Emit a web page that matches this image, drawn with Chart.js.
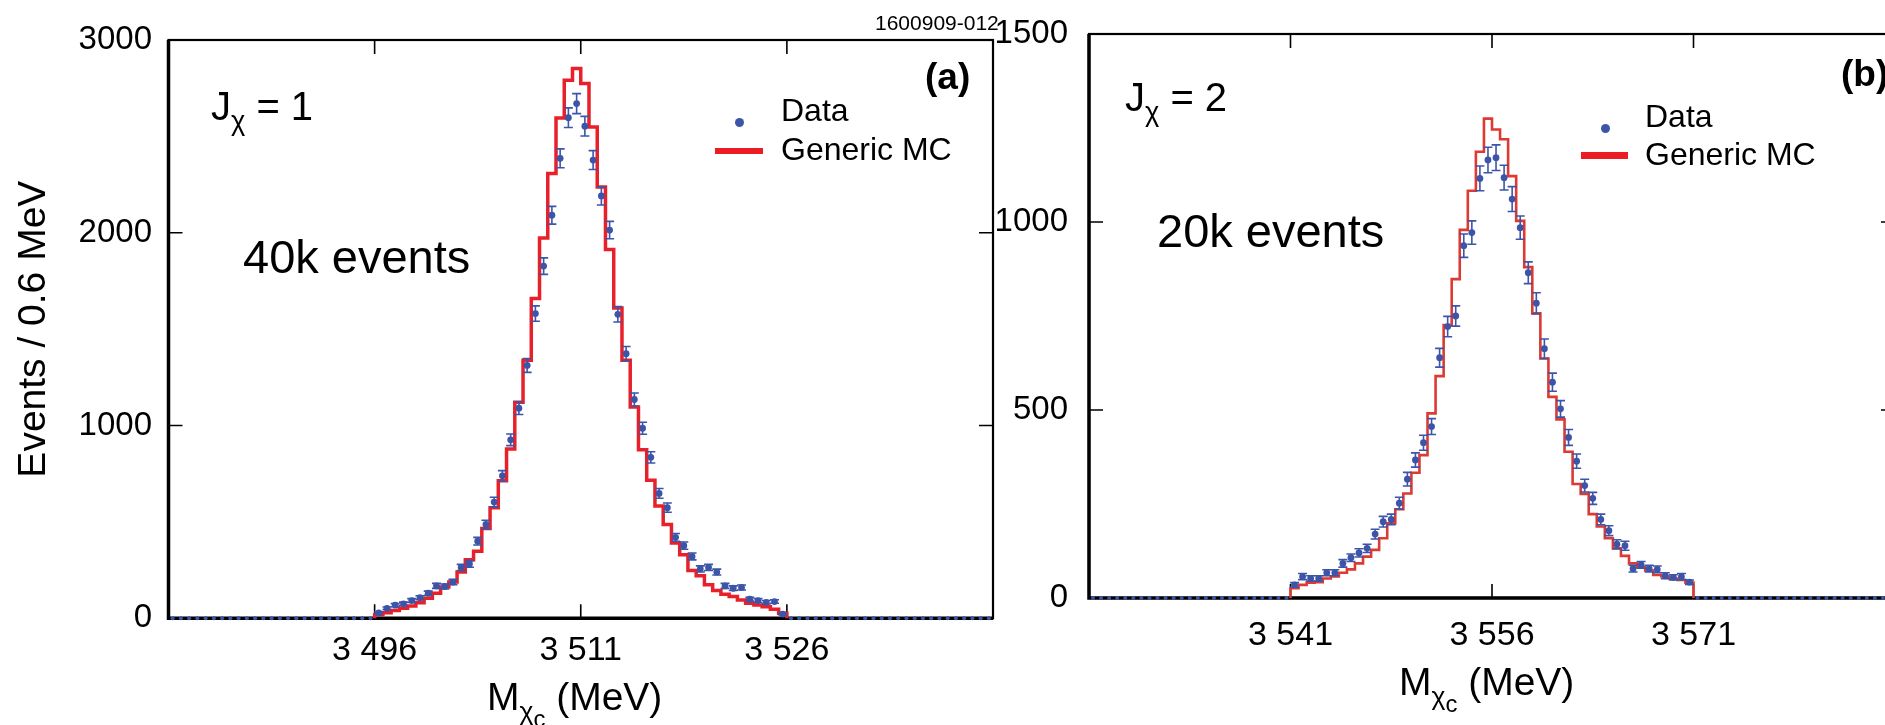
<!DOCTYPE html>
<html>
<head>
<meta charset="utf-8">
<script src="https://cdn.jsdelivr.net/npm/chart.js@4.4.1/dist/chart.umd.min.js"></script>
<style>
  html, body { margin: 0; padding: 0; width: 1885px; height: 725px; overflow: hidden; background: #fff; }
  body { position: relative; font-family: 'Liberation Sans', Arial, Helvetica, sans-serif; color: #000; }
  .panel { position: absolute; top: 0; }
  #panelA { left: 0; width: 1000px; height: 725px; }
  #panelB { left: 985px; width: 915px; height: 725px; }
  .txt { position: absolute; white-space: nowrap; line-height: 1; }
  .sub { font-size: 0.68em; position: relative; top: 0.38em; }
  .subsub { font-size: 0.9em; position: relative; top: 0.3em; }
  .dot { position: absolute; width: 9px; height: 9px; border-radius: 50%; background: #3d55a8; }
  .bar { position: absolute; background: #ec1c24; }
</style>
</head>
<body>
<div id="panelA" class="panel"><canvas id="chartA" width="1000" height="725"></canvas></div>
<div id="panelB" class="panel"><canvas id="chartB" width="915" height="725"></canvas></div>

<!-- panel (a) annotations -->
<div class="txt" style="left:875px;top:12px;font-size:21px;">1600909-012</div>
<div class="txt" style="left:925px;top:58px;font-size:37px;font-weight:bold;">(a)</div>
<div class="txt" style="left:211px;top:86px;font-size:40px;">J<span class="sub">χ</span> = 1</div>
<div class="txt" style="left:243px;top:233px;font-size:47px;">40k events</div>
<div class="dot" style="left:735px;top:118px;"></div>
<div class="txt" style="left:781px;top:94px;font-size:32px;">Data</div>
<div class="bar" style="left:715px;top:148px;width:48px;height:6px;"></div>
<div class="txt" style="left:781px;top:133px;font-size:32px;">Generic MC</div>
<div class="txt" style="left:487px;top:677px;font-size:39px;">M<span class="sub">χ<span class="subsub">c</span></span> (MeV)</div>

<!-- panel (b) annotations -->
<div class="txt" style="left:1841px;top:55px;font-size:37px;font-weight:bold;">(b)</div>
<div class="txt" style="left:1125px;top:77px;font-size:40px;">J<span class="sub">χ</span> = 2</div>
<div class="txt" style="left:1157px;top:207px;font-size:47px;">20k events</div>
<div class="dot" style="left:1601px;top:124px;"></div>
<div class="txt" style="left:1645px;top:100px;font-size:32px;">Data</div>
<div class="bar" style="left:1581px;top:152px;width:47px;height:7px;"></div>
<div class="txt" style="left:1645px;top:138px;font-size:32px;">Generic MC</div>
<div class="txt" style="left:1399px;top:662px;font-size:39px;">M<span class="sub">χ<span class="subsub">c</span></span> (MeV)</div>

<script>
// histogram binning: 0.6 MeV per bin
const binWidth = 0.6;

// ---- panel (a): J_chi = 1 ----
const axisA = [3481, 3541];
const xTicksA = [3496, 3511, 3526];
const yMaxA = 3000;
const yStepA = 1000;
// data counts per bin, first bin starts at 3481 MeV
const dataA = [
  0, 0, 0, 0, 0, 0, 0, 0, 0, 0, 0, 0, 0, 0, 0, 0, 0, 0, 0, 0, 0, 0, 0, 0, 0,
  28, 52, 68, 75, 92, 107, 130, 168, 165, 188,
  264, 282, 400, 487, 603, 739, 926, 1090, 1312, 1581,
  1827, 2091, 2386, 2597, 2670, 2553, 2377, 2191, 2014, 1577,
  1373, 1135, 986, 835, 648, 574, 420, 377, 321, 256,
  264, 240, 168, 156, 160, 99, 92, 83, 87, 22,
  0, 0, 0, 0, 0, 0, 0, 0, 0, 0, 0, 0, 0, 0, 0, 0, 0, 0, 0, 0, 0, 0, 0, 0, 0
];
const errA = [
  0, 0, 0, 0, 0, 0, 0, 0, 0, 0, 0, 0, 0, 0, 0, 0, 0, 0, 0, 0, 0, 0, 0, 0, 0,
  5, 7, 8, 9, 10, 10, 11, 13, 13, 14,
  16, 17, 20, 22, 25, 27, 30, 33, 36, 40,
  43, 46, 49, 51, 52, 51, 49, 47, 45, 40,
  37, 34, 31, 29, 25, 24, 20, 19, 18, 16,
  16, 15, 13, 12, 13, 10, 10, 9, 9, 5,
  0, 0, 0, 0, 0, 0, 0, 0, 0, 0, 0, 0, 0, 0, 0, 0, 0, 0, 0, 0, 0, 0, 0, 0, 0
];
// generic MC, first bin starts at 3496 MeV
const mcStartA = 3496;
const mcA = [
  19, 29, 40, 52, 64, 81, 104, 130, 162, 188,
  240, 304, 348, 466, 574, 713, 878, 1121, 1339, 1659,
  1973, 2307, 2595, 2791, 2852, 2774, 2549, 2237, 1913, 1610,
  1339, 1096, 874, 716, 582, 487, 391, 330, 248, 221,
  174, 144, 125, 113, 95, 78, 69, 60, 47, 26
];

// ---- panel (b): J_chi = 2 ----
const axisB = [3526, 3586];
const xTicksB = [3541, 3556, 3571];
const yMaxB = 1500;
const yStepB = 500;
// data counts per bin, first bin starts at 3526 MeV
const dataB = [
  0, 0, 0, 0, 0, 0, 0, 0, 0, 0, 0, 0, 0, 0, 0, 0, 0, 0, 0, 0, 0, 0, 0, 0, 0,
  35, 57, 52, 52, 67, 67, 92, 107, 120, 132,
  170, 203, 209, 252, 316, 367, 413, 456, 639, 722,
  750, 937, 972, 1116, 1165, 1171, 1118, 1061, 985, 865,
  784, 663, 574, 503, 427, 364, 299, 265, 209, 179,
  143, 139, 78, 88, 78, 76, 59, 55, 57, 42,
  0, 0, 0, 0, 0, 0, 0, 0, 0, 0, 0, 0, 0, 0, 0, 0, 0, 0, 0, 0, 0, 0, 0, 0, 0
];
const errB = [
  0, 0, 0, 0, 0, 0, 0, 0, 0, 0, 0, 0, 0, 0, 0, 0, 0, 0, 0, 0, 0, 0, 0, 0, 0,
  6, 8, 7, 7, 8, 8, 10, 10, 11, 11,
  13, 14, 14, 16, 18, 19, 20, 21, 25, 27,
  27, 31, 31, 33, 34, 34, 33, 33, 31, 29,
  28, 26, 24, 22, 21, 19, 17, 16, 14, 13,
  12, 12, 9, 9, 9, 9, 8, 7, 8, 6,
  0, 0, 0, 0, 0, 0, 0, 0, 0, 0, 0, 0, 0, 0, 0, 0, 0, 0, 0, 0, 0, 0, 0, 0, 0
];
const mcStartB = 3541;
const mcB = [
  26, 35, 41, 42, 52, 57, 67, 76, 92, 110,
  128, 159, 199, 236, 278, 333, 380, 491, 590, 726,
  848, 979, 1083, 1187, 1275, 1246, 1220, 1122, 1003, 880,
  757, 637, 535, 475, 389, 303, 277, 223, 190, 159,
  132, 112, 92, 82, 73, 61, 57, 52, 48, 41
];

const BLUE = '#3d55a8';
const FONT = "'Liberation Sans', Arial, Helvetica, sans-serif";

// bin centres for the data points
function dataPoints(start, counts) {
  return counts.map((c, i) => ({ x: start + binWidth * (i + 0.5), y: c }));
}

// step outline for the MC histogram (points at left bin edges)
function stepPoints(start, counts) {
  const pts = [{ x: start, y: 0 }];
  counts.forEach((c, i) => pts.push({ x: start + binWidth * i, y: c }));
  const end = start + binWidth * counts.length;
  pts.push({ x: end, y: counts[counts.length - 1] });
  pts.push({ x: end, y: 0 });
  return pts;
}

function fmtMeV(v) {
  return String(v).replace(/(\d)(\d{3})$/, '$1 $2');
}

// black frame with inward tick marks on all four sides
const framePlugin = {
  id: 'frame',
  beforeDatasetsDraw(chart) {
    const { ctx, chartArea: a, scales } = chart;
    const L = 14;
    ctx.save();
    ctx.strokeStyle = '#000';
    ctx.lineWidth = 1.6;
    ctx.beginPath();
    scales.x.ticks.forEach(t => {
      const px = scales.x.getPixelForValue(t.value);
      ctx.moveTo(px, a.bottom); ctx.lineTo(px, a.bottom - L);
      ctx.moveTo(px, a.top); ctx.lineTo(px, a.top + L);
    });
    scales.y.ticks.forEach(t => {
      const py = scales.y.getPixelForValue(t.value);
      ctx.moveTo(a.left, py); ctx.lineTo(a.left + L, py);
      ctx.moveTo(a.right, py); ctx.lineTo(a.right - L, py);
    });
    ctx.stroke();
    ctx.lineWidth = 2.2;
    ctx.strokeRect(a.left, a.top, a.right - a.left, a.bottom - a.top);
    ctx.lineWidth = 3.5;
    ctx.beginPath();
    ctx.moveTo(a.left, a.top);
    ctx.lineTo(a.left, a.bottom);
    ctx.lineTo(a.right, a.bottom);
    ctx.stroke();
    ctx.restore();
  }
};

// vertical error bars with caps for datasets that carry an `errors` array
const errorBarPlugin = {
  id: 'errorBars',
  afterDatasetsDraw(chart) {
    const { ctx, scales: { x, y } } = chart;
    chart.data.datasets.forEach(ds => {
      if (!ds.errors) return;
      ctx.save();
      ctx.strokeStyle = ds.borderColor;
      ctx.lineWidth = 1.6;
      ds.data.forEach((p, i) => {
        const e = ds.errors[i];
        if (!e) return;
        const px = x.getPixelForValue(p.x);
        const top = y.getPixelForValue(p.y + e);
        const bot = y.getPixelForValue(p.y - e);
        ctx.beginPath();
        ctx.moveTo(px, top); ctx.lineTo(px, bot);
        ctx.moveTo(px - 4.5, top); ctx.lineTo(px + 4.5, top);
        ctx.moveTo(px - 4.5, bot); ctx.lineTo(px + 4.5, bot);
        ctx.stroke();
      });
      ctx.restore();
    });
  }
};

function buildPanel(cfg) {
  return new Chart(document.getElementById(cfg.canvasId), {
    type: 'line',
    data: {
      datasets: [
        {
          label: 'Data',
          data: dataPoints(cfg.axis[0], cfg.data),
          errors: cfg.err,
          showLine: false,
          borderColor: BLUE,
          backgroundColor: BLUE,
          pointRadius: ctx => (ctx.raw && ctx.raw.y === 0 ? 2 : 3.4),
          pointBorderWidth: 0,
          clip: false,
          order: 0
        },
        {
          label: 'Generic MC',
          data: stepPoints(cfg.mcStart, cfg.mc),
          stepped: true,
          borderColor: cfg.mcColor,
          borderWidth: cfg.mcWidth,
          pointRadius: 0,
          fill: false,
          clip: false,
          order: 1
        }
      ]
    },
    options: {
      responsive: false,
      animation: false,
      layout: { padding: { top: cfg.top, right: cfg.right, left: 0, bottom: 0 } },
      plugins: { legend: { display: false }, tooltip: { enabled: false } },
      scales: {
        x: {
          type: 'linear',
          min: cfg.axis[0],
          max: cfg.axis[1],
          afterBuildTicks: s => { s.ticks = cfg.xTicks.map(v => ({ value: v })); },
          afterFit: s => { s.height = cfg.bottomH; s.paddingLeft = 0; s.paddingRight = 0; },
          grid: { display: false, drawTicks: false },
          border: { display: false },
          ticks: {
            color: '#000',
            font: { family: FONT, size: 34 },
            padding: cfg.xPad,
            maxRotation: 0,
            autoSkip: false,
            callback: v => fmtMeV(v)
          }
        },
        y: {
          min: 0,
          max: cfg.yMax,
          // fixed width; no extra room reserved for the top/bottom labels
          afterFit: s => { s.width = cfg.leftW; s.paddingTop = 0; s.paddingBottom = 0; },
          grid: { display: false, drawTicks: false },
          border: { display: false },
          ticks: {
            stepSize: cfg.yStep,
            color: '#000',
            font: { family: FONT, size: 33 },
            padding: cfg.yPad,
            callback: v => String(v)
          },
          title: cfg.yTitle
            ? { display: true, text: cfg.yTitle, color: '#000', font: { family: FONT, size: 39 }, padding: { top: 11, bottom: 0 } }
            : { display: false }
        }
      }
    },
    plugins: [framePlugin, errorBarPlugin]
  });
}

buildPanel({
  canvasId: 'chartA', axis: axisA, xTicks: xTicksA, yMax: yMaxA, yStep: yStepA,
  data: dataA, err: errA, mcStart: mcStartA, mc: mcA,
  mcColor: '#e8202a', mcWidth: 3.5,
  top: 40, right: 7, leftW: 168.5, bottomH: 106.7, xPad: 12, yPad: 16.5,
  yTitle: 'Events / 0.6 MeV'
});

buildPanel({
  canvasId: 'chartB', axis: axisB, xTicks: xTicksB, yMax: yMaxB, yStep: yStepB,
  data: dataB, err: errB, mcStart: mcStartB, mc: mcB,
  mcColor: '#dc3a33', mcWidth: 2.6,
  top: 34, right: 5, leftW: 104, bottomH: 127, xPad: 17, yPad: 21
});
</script>
</body>
</html>
